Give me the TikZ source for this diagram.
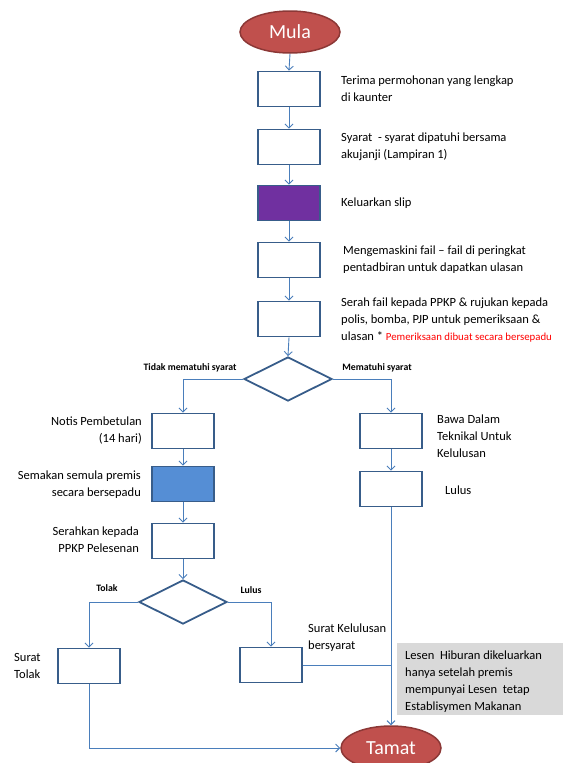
\documentclass[tikz,border=0pt]{standalone}
\usepackage{fontspec}
\setmainfont{Carlito}
\usetikzlibrary{shapes.geometric,arrows.meta}
\definecolor{boxc}{HTML}{385D8A}
\definecolor{linec}{HTML}{4A7EBB}
\definecolor{ovalfill}{HTML}{C0504D}
\definecolor{ovaldraw}{HTML}{8C3836}
\definecolor{purp}{HTML}{7030A0}
\definecolor{bluef}{HTML}{558ED5}
\definecolor{notegray}{HTML}{D9D9D9}
\tikzset{
  stepbox/.style={draw=boxc, line width=1.8pt, fill=white, minimum width=62pt, minimum height=35pt, inner sep=0pt},
  oval/.style={ellipse, draw=ovaldraw, line width=1.5pt, fill=ovalfill, minimum width=100pt, minimum height=42pt, inner sep=0pt, text=white, font=\fontsize{20}{24}\selectfont},
  decide/.style={diamond, draw=boxc, line width=1.8pt, fill=white, minimum width=88pt, minimum height=44pt, inner sep=0pt},
  conn/.style={draw=linec, line width=0.9pt},
  arr/.style={conn, -{Straight Barb[length=4pt,width=8pt]}},
  txt/.style={inner sep=0pt, align=left, font=\fontsize{12.5}{17}\selectfont},
  txtr/.style={inner sep=0pt, align=right, font=\fontsize{12.5}{17}\selectfont},
  small/.style={inner sep=0pt, font=\fontsize{9.8}{11}\selectfont\bfseries}
}
\begin{document}
\begin{tikzpicture}[x=1pt,y=-1pt]
\useasboundingbox (0,0) rectangle (563,763);
\clip (0,0) rectangle (563,763);
% main column
\node[oval] (mula) at (290,32) {Mula};
\node[stepbox] (b1) at (289,89) {};
\node[stepbox] (b2) at (289,147) {};
\node[stepbox, fill=purp] (b3) at (289,203) {};
\node[stepbox] (b4) at (289,260) {};
\node[stepbox] (b5) at (289,319) {};
\node[decide] (d1) at (288,379) {};
% left branch
\node[stepbox] (l1) at (183,431) {};
\node[stepbox, fill=bluef] (l2) at (183,484) {};
\node[stepbox] (l3) at (183,541) {};
\node[decide] (d2) at (183,602) {};
\node[stepbox] (tolak) at (89,666) {};
\node[stepbox] (kel) at (271,665) {};
% right branch
\node[stepbox] (r1) at (391,431) {};
\node[stepbox] (r2) at (391,489) {};
\node[oval, minimum height=44pt] (tamat) at (391,748) {Tamat};
% note
\node[fill=notegray, minimum width=166pt, minimum height=72pt, inner sep=0pt, anchor=north west] (note) at (397,643) {};
\node[txt, anchor=west] (notetxt) at (405,682) {Lesen\ \ Hiburan dikeluarkan\\hanya setelah premis\\mempunyai Lesen\ \ tetap\\Establisymen Makanan};
% connectors
\draw[arr] (mula.south) -- (b1.north);
\draw[arr] (b1.south) -- (b2.north);
\draw[arr] (b2.south) -- (b3.north);
\draw[arr] (b3.south) -- (b4.north);
\draw[arr] (b4.south) -- (b5.north);
\draw[arr] (b5.south) -- (d1.north);
\draw[arr] (d1.west) -| (l1.north);
\draw[arr] (d1.east) -| (r1.north);
\draw[arr] (l1.south) -- (l2.north);
\draw[arr] (l2.south) -- (l3.north);
\draw[arr] (l3.south) -- (d2.north);
\draw[arr] (d2.west) -| (tolak.north);
\draw[arr] (d2.east) -| (kel.north);
\draw[arr] (r1.south) -- (r2.north);
\draw[arr] (r2.south) -- (tamat.north);
\coordinate (join) at (kel.east -| r2.south);
\draw[conn] (kel.east) -- (join);
\draw[arr] (tolak.south) |- (tamat.west);
% texts
\node[txt, anchor=west] (t1) at (341,89) {Terima permohonan yang lengkap\\di kaunter};
\node[txt, anchor=west] (t2) at (341,147) {Syarat\ \ - syarat dipatuhi bersama\\akujanji (Lampiran 1)};
\node[txt, anchor=west] (t3) at (341,203) {Keluarkan slip};
\node[txt, anchor=west] (t4) at (343,260) {Mengemaskini fail -- fail di peringkat\\pentadbiran untuk dapatkan ulasan};
\node[txt, anchor=west] (t5) at (341,320) {Serah fail kepada PPKP \& rujukan kepada\\polis, bomba, PJP untuk pemeriksaan \&\\ulasan * {\color{red}\fontsize{10.8}{12}\selectfont Pemeriksaan dibuat secara bersepadu}};
\node[small] (lab1) at (190,368) {Tidak mematuhi syarat};
\node[small] (lab2) at (377,368) {Mematuhi syarat};
\node[txtr, anchor=east] (t6) at (142,431) {Notis Pembetulan\\(14 hari)};
\node[txt, anchor=west] (t7) at (437,436) {Bawa Dalam\\Teknikal Untuk\\Kelulusan};
\node[txt, anchor=west] (t8) at (445,490) {Lulus};
\node[txtr, anchor=east] (t9) at (141,485) {Semakan semula premis\\secara bersepadu};
\node[txtr, anchor=east] (t10) at (139,540) {Serahkan kepada\\PPKP Pelesenan};
\node[small] (lab3) at (107,588) {Tolak};
\node[small] (lab4) at (251,590) {Lulus};
\node[txt, anchor=west] (t11) at (14,666) {Surat\\Tolak};
\node[txt, anchor=west] (t12) at (308,638) {Surat Kelulusan\\bersyarat};
\end{tikzpicture}
\end{document}
